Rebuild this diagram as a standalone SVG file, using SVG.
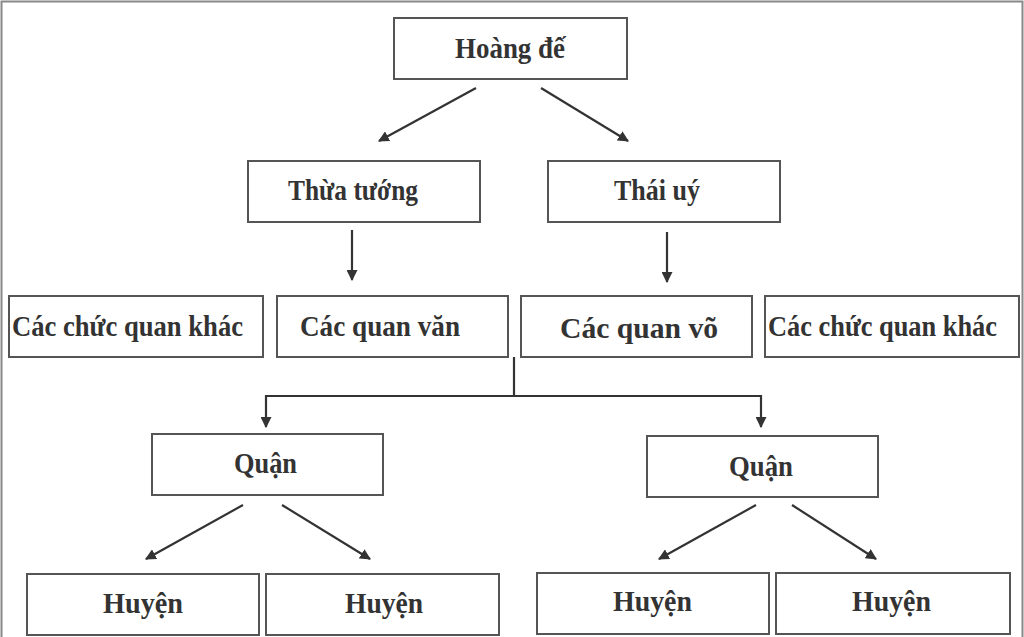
<svg xmlns="http://www.w3.org/2000/svg" width="1024" height="637" viewBox="0 0 1024 637">
<defs>
<style>
.box{fill:#fff;stroke:#555;stroke-width:2}
.t{font-family:"Liberation Serif","Times New Roman",serif;font-size:29px;font-weight:bold;fill:#333}
.c{stroke:#333;stroke-width:2.2;fill:none}
</style>
<marker id="ah" viewBox="0 0 10 10" refX="9" refY="5" markerWidth="5" markerHeight="5" orient="auto" markerUnits="strokeWidth">
<path d="M0,0 L10,5 L0,10 z" fill="#333"/>
</marker>
</defs>
<rect x="0" y="0" width="1024" height="637" fill="#fff"/>
<path d="M1.5,637 V1.5 H1022.5 V637" fill="none" stroke="#888" stroke-width="2"/>
<g id="connectors">
<line class="c" x1="476" y1="88" x2="379" y2="141" marker-end="url(#ah)"/>
<line class="c" x1="541" y1="88" x2="628" y2="141" marker-end="url(#ah)"/>
<line class="c" x1="352" y1="230" x2="352" y2="280" marker-end="url(#ah)"/>
<line class="c" x1="667" y1="232" x2="667" y2="282" marker-end="url(#ah)"/>
<path class="c" d="M514,357 V396 H266 V427" marker-end="url(#ah)"/>
<path class="c" d="M514,396 H761 V427" marker-end="url(#ah)"/>
<line class="c" x1="243" y1="505" x2="146" y2="559" marker-end="url(#ah)"/>
<line class="c" x1="282" y1="505" x2="370" y2="559" marker-end="url(#ah)"/>
<line class="c" x1="756" y1="505" x2="659" y2="559" marker-end="url(#ah)"/>
<line class="c" x1="792" y1="505" x2="876" y2="559" marker-end="url(#ah)"/>
</g>
<g id="hoangde"><rect class="box" x="394" y="18" width="233" height="61"/><text class="t" x="455" y="58" textLength="110" lengthAdjust="spacingAndGlyphs">Hoàng đế</text></g>
<g id="thuatuong"><rect class="box" x="248" y="161" width="232" height="61"/><text class="t" x="288" y="200" textLength="130" lengthAdjust="spacingAndGlyphs">Thừa tướng</text></g>
<g id="thaiuy"><rect class="box" x="548" y="161" width="232" height="61"/><text class="t" x="614" y="200" textLength="86" lengthAdjust="spacingAndGlyphs">Thái uý</text></g>
<g id="khac1"><rect class="box" x="9" y="296" width="254" height="61"/><text class="t" x="12" y="336" textLength="231" lengthAdjust="spacingAndGlyphs">Các chức quan khác</text></g>
<g id="quanvan"><rect class="box" x="277" y="296" width="231" height="61"/><text class="t" x="300" y="336" textLength="160" lengthAdjust="spacingAndGlyphs">Các quan văn</text></g>
<g id="quanvo"><rect class="box" x="521" y="296" width="231" height="61"/><text class="t" x="560" y="338" textLength="158" lengthAdjust="spacingAndGlyphs">Các quan võ</text></g>
<g id="khac2"><rect class="box" x="765" y="296" width="254" height="61"/><text class="t" x="768" y="336" textLength="229" lengthAdjust="spacingAndGlyphs">Các chức quan khác</text></g>
<g id="quan1"><rect class="box" x="152" y="434" width="231" height="61"/><text class="t" x="234" y="473" textLength="63" lengthAdjust="spacingAndGlyphs">Quận</text></g>
<g id="quan2"><rect class="box" x="647" y="436" width="231" height="61"/><text class="t" x="729" y="476" textLength="64" lengthAdjust="spacingAndGlyphs">Quận</text></g>
<g id="huyen1"><rect class="box" x="27" y="574" width="232" height="61"/><text class="t" x="103" y="613" textLength="80" lengthAdjust="spacingAndGlyphs">Huyện</text></g>
<g id="huyen2"><rect class="box" x="266" y="574" width="233" height="61"/><text class="t" x="345" y="613" textLength="78" lengthAdjust="spacingAndGlyphs">Huyện</text></g>
<g id="huyen3"><rect class="box" x="537" y="573" width="232" height="61"/><text class="t" x="613" y="611" textLength="79" lengthAdjust="spacingAndGlyphs">Huyện</text></g>
<g id="huyen4"><rect class="box" x="776" y="573" width="234" height="61"/><text class="t" x="852" y="611" textLength="79" lengthAdjust="spacingAndGlyphs">Huyện</text></g>
</svg>
